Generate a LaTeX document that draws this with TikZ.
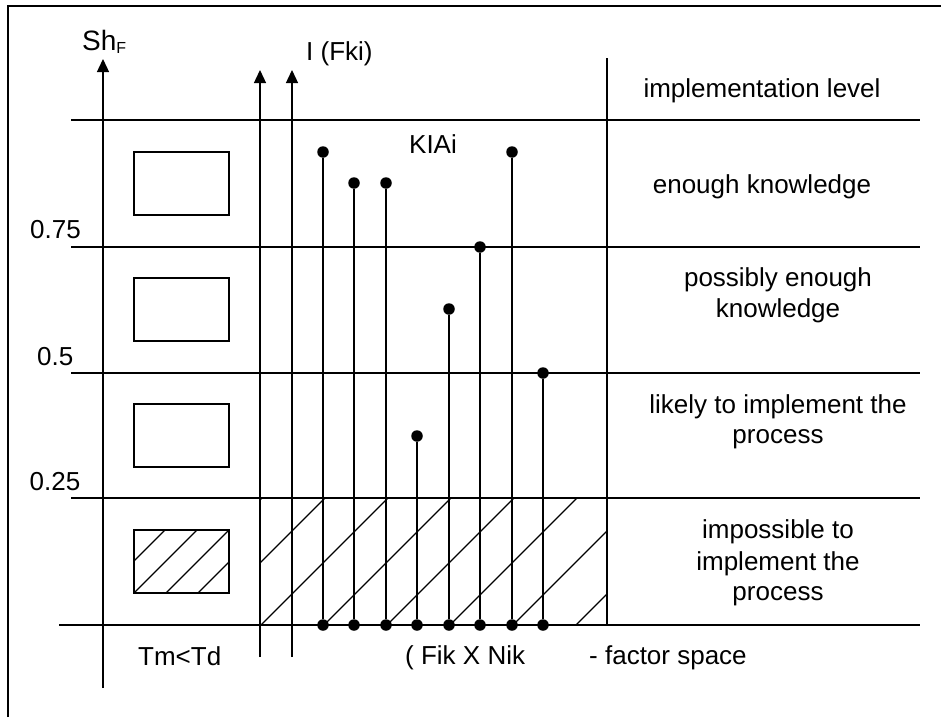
\documentclass[tikz,border=0pt]{standalone}
\usepackage{fontspec}
\setmainfont{Liberation Sans}
\usetikzlibrary{arrows.meta}
\begin{document}
\begin{tikzpicture}[x=1pt,y=-1pt,
  rule/.style={line width=1.3pt},
  axis/.style={line width=1.3pt,-{Triangle[width=12pt,length=13pt]}},
  lbl/.style={inner sep=0pt,font=\fontsize{26}{31}\selectfont},
  dot/.style={circle,fill,inner sep=0pt,minimum size=11.5pt},
  box/.style={draw,line width=1.3pt,minimum width=95pt,minimum height=63pt,inner sep=0pt},
  hatch/.style={line width=1.1pt}]
\useasboundingbox (0,0) rectangle (941,717);

% frame
\coordinate (fb) at (8,717);
\coordinate (fc) at (8,6);
\coordinate (fr) at (941,6);
\draw[rule] (fb) -- (fc) -- (fr);

% hatched band of the lowest level
\begin{scope}
  \clip (260,498) rectangle (607,625);
  \foreach \x in {135,198,261,324,387,450,513,576}
    \draw[hatch] (\x,625) -- ++(127,-127);
\end{scope}

% level lines
\foreach \y/\n in {120/a,247/b,373/c,498/d}{
  \coordinate (L\n) at (71,\y);
  \coordinate (R\n) at (920,\y);
  \draw[rule] (L\n) -- (R\n);
}
\coordinate (Le) at (59,625);
\coordinate (Re) at (920,625);
\draw[rule] (Le) -- (Re);
\coordinate (vt) at (607,58);
\coordinate (vb) at (607,625);
\draw[rule] (vt) -- (vb);

% axes
\coordinate (shB) at (103,688);
\coordinate (shT) at (103,59);
\draw[axis] (shB) -- (shT);
\coordinate (iaB) at (260,657);
\coordinate (iaT) at (260,70);
\draw[axis] (iaB) -- (iaT);
\coordinate (ibB) at (292,657);
\coordinate (ibT) at (292,70);
\draw[axis] (ibB) -- (ibT);

% level boxes
\node[box] (box1) at (181.5,183.5) {};
\node[box] (box2) at (181.5,309.5) {};
\node[box] (box3) at (181.5,435.5) {};
\node[box] (box4) at (181.5,561.5) {};
\begin{scope}
  \clip (box4.north west) rectangle (box4.south east);
  \foreach \x in {102,134,166,198}
    \draw[hatch] (\x,593) -- ++(63,-63);
\end{scope}

% stems of the factors
\foreach \i/\x/\y in {1/323/152,2/354/183,3/386/183,4/417/436,5/449/309,6/480/247,7/512/152,8/543/373}{
  \node[dot] (b\i) at (\x,625) {};
  \node[dot] (t\i) at (\x,\y) {};
  \draw[rule] (b\i) -- (t\i);
}

% labels
\node[lbl,anchor=base west] (shlbl) at (82,50) {\fontsize{28}{28}\selectfont Sh\raisebox{-3pt}{\fontsize{16}{16}\selectfont F}};
\node[lbl,anchor=base west] (ilbl) at (306,60) {I (Fki)};
\node[lbl,anchor=base] (kia) at (433,153) {KIAi};
\node[lbl,anchor=base west] (v75) at (30,238) {0.75};
\node[lbl,anchor=base west] (v50) at (37,365) {0.5};
\node[lbl,anchor=base west] (v25) at (29.5,490) {0.25};
\node[lbl,anchor=base west] (tmtd) at (138,665) {Tm<Td};
\node[lbl,anchor=base west] (fik) at (405,664) {( Fik X Nik};
\node[lbl,anchor=base west] (fsp) at (589,664) {- factor space};

\node[lbl,anchor=base] (lev) at (762,97) {implementation level};
\node[lbl,anchor=base] (enk) at (762,193) {enough knowledge};
\node[lbl,anchor=base] (pe1) at (778,286) {possibly enough};
\node[lbl,anchor=base] (pe2) at (778,317) {knowledge};
\node[lbl,anchor=base] (li1) at (778,413) {likely to implement the};
\node[lbl,anchor=base] (li2) at (778,443) {process};
\node[lbl,anchor=base] (im1) at (778,538) {impossible to};
\node[lbl,anchor=base] (im2) at (778,570) {implement the};
\node[lbl,anchor=base] (im3) at (778,600) {process};
\end{tikzpicture}
\end{document}
